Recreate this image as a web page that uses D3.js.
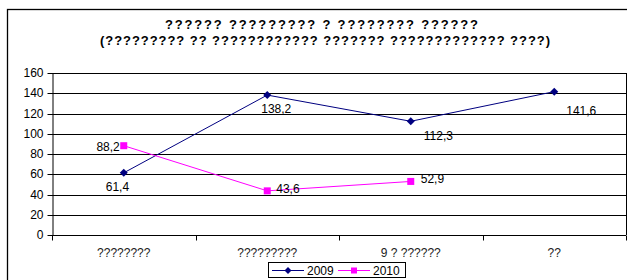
<!DOCTYPE html>
<html><head><meta charset="utf-8">
<script src="https://cdn.jsdelivr.net/npm/d3@7"></script>
<style>body{margin:0;background:#fff}svg{display:block}text{font-family:"Liberation Sans",Arial,sans-serif}</style>
</head><body><svg id="c" width="627" height="280"></svg>
<script>
const titleLines = ["?????? ????????? ? ???????? ??????", "(????????? ?? ???????????? ??????? ????????????? ????)"];
const categories = ["????????", "?????????", "9 ? ??????", "??"];
const series2009 = [61.4, 138.2, 112.3, 141.6];
const series2010 = [88.2, 43.6, 52.9];
const seriesNames = ["2009", "2010"];
const yTicks = [0, 20, 40, 60, 80, 100, 120, 140, 160];

const svg = d3.select("#c");
const L = 52, R = 626, T = 73, B = 235;
const x = d3.scaleBand().domain(categories).range([L, R]);
const y = d3.scaleLinear().domain([0, 160]).range([B, T]);
const cx = c => x(c) + x.bandwidth() / 2;

// outer frame
svg.append("rect").attr("x", 7.5).attr("y", 9.5).attr("width", 700).attr("height", 400)
  .attr("fill", "none").attr("stroke", "#000").attr("stroke-width", 1.3);

// title
const titleWidths = [313, 450];
svg.append("g").selectAll("text").data(titleLines).join("text")
  .attr("x", (d, i) => i === 0 ? 165 : 100).attr("y", (d, i) => 29 + i * 16)
  .attr("textLength", (d, i) => titleWidths[i]).attr("lengthAdjust", "spacing")
  .attr("font-size", 13).attr("font-weight", "bold").text(d => d);

// gridlines
svg.append("g").selectAll("line").data(yTicks).join("line")
  .attr("x1", L).attr("x2", R).attr("y1", d => Math.round(y(d)) + 0.5).attr("y2", d => Math.round(y(d)) + 0.5)
  .attr("stroke", "#000").attr("stroke-width", 1);
svg.append("line").attr("x1", R + 0.5).attr("x2", R + 0.5).attr("y1", T).attr("y2", B)
  .attr("stroke", "#000");

// y axis
const yAxis = svg.append("g").attr("transform", `translate(${L + 0.5},0)`)
  .call(d3.axisLeft(y).tickValues(yTicks).tickSize(5).tickSizeOuter(0).tickFormat(d3.format("d")));
yAxis.selectAll("text").attr("font-size", 12).attr("font-family", "Liberation Sans, Arial").attr("fill", "#000").attr("x", -9);
yAxis.selectAll("line,path").attr("stroke", "#000");
yAxis.selectAll(".tick").attr("transform", d => `translate(0,${Math.round(y(d)) + 0.5})`);

// x axis
const xAxis = svg.append("g").attr("transform", `translate(0,${B + 0.5})`);
xAxis.append("line").attr("x1", L).attr("x2", R).attr("stroke", "#000");
const bounds = categories.map(c => x(c)).concat([R]);
xAxis.selectAll("line.tk").data(bounds).join("line").attr("class", "tk")
  .attr("x1", d => Math.round(d) + 0.5).attr("x2", d => Math.round(d) + 0.5).attr("y1", 0).attr("y2", 5).attr("stroke", "#000");
xAxis.selectAll("text").data(categories).join("text")
  .attr("x", d => cx(d)).attr("y", 21).attr("text-anchor", "middle").attr("font-size", 12).attr("fill", "#222").text(d => d);

// lines
const line = d3.line().x((d, i) => cx(categories[i])).y(d => y(d));
svg.append("path").datum(series2009).attr("d", line).attr("fill", "none").attr("stroke", "#000080").attr("stroke-width", 1);
svg.append("path").datum(series2010).attr("d", line).attr("fill", "none").attr("stroke", "#FF00FF").attr("stroke-width", 1);

// markers
svg.append("g").selectAll("path").data(series2009).join("path")
  .attr("transform", (d, i) => `translate(${cx(categories[i])},${y(d)})`)
  .attr("d", "M0,-4L4,0L0,4L-4,0Z").attr("fill", "#000080");
svg.append("g").selectAll("rect").data(series2010).join("rect")
  .attr("x", (d, i) => cx(categories[i]) - 3.5).attr("y", d => y(d) - 3.5)
  .attr("width", 7).attr("height", 7).attr("fill", "#FF00FF");

// value labels
const fmt = v => String(v).replace(".", ",");
const off2009 = [[-18, 18, "start"], [-6, 18, "start"], [13, 19, "start"], [12, 23, "start"]];
const off2010 = [[-4, 5, "end"], [9, 2, "start"], [10, 2, "start"]];
svg.append("g").selectAll("text").data(series2009).join("text")
  .attr("x", (d, i) => cx(categories[i]) + off2009[i][0]).attr("y", d => y(d))
  .attr("dy", (d, i) => off2009[i][1]).attr("text-anchor", (d, i) => off2009[i][2])
  .attr("font-size", 12).text(fmt);
svg.append("g").selectAll("text").data(series2010).join("text")
  .attr("x", (d, i) => cx(categories[i]) + off2010[i][0]).attr("y", d => y(d))
  .attr("dy", (d, i) => off2010[i][1]).attr("text-anchor", (d, i) => off2010[i][2])
  .attr("font-size", 12).text(fmt);

// legend
const lg = svg.append("g");
lg.append("rect").attr("x", 268.5).attr("y", 262.5).attr("width", 137).attr("height", 15)
  .attr("fill", "#fff").attr("stroke", "#000");
const items = [{n: seriesNames[0], c: "#000080", m: "d", x0: 272}, {n: seriesNames[1], c: "#FF00FF", m: "s", x0: 338}];
items.forEach(it => {
  lg.append("line").attr("x1", it.x0).attr("x2", it.x0 + 32).attr("y1", 270.5).attr("y2", 270.5).attr("stroke", it.c);
  if (it.m === "d") lg.append("path").attr("transform", `translate(${it.x0 + 16},270.5)`).attr("d", "M0,-3.5L3.5,0L0,3.5L-3.5,0Z").attr("fill", it.c);
  else lg.append("rect").attr("x", it.x0 + 13).attr("y", 267.5).attr("width", 6).attr("height", 6).attr("fill", it.c);
  lg.append("text").attr("x", it.x0 + 35).attr("y", 275).attr("font-size", 12).text(it.n);
});
</script></body></html>
